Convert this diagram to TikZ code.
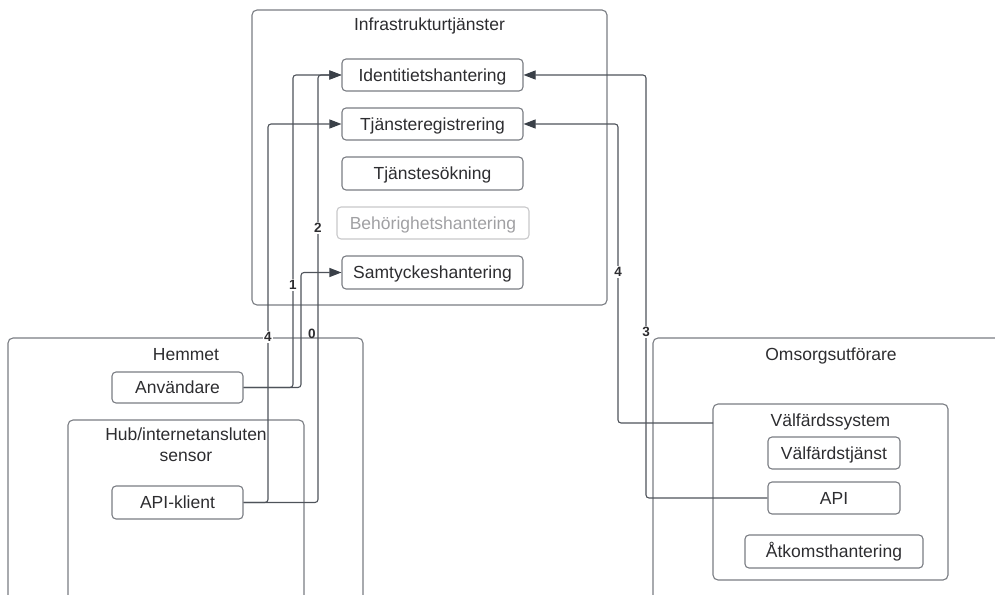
\documentclass[tikz,border=0pt]{standalone}
\usepackage{fontspec}
\setmainfont{Liberation Sans}
\usetikzlibrary{arrows.meta}

\definecolor{boxgray}{RGB}{122,125,131}
\definecolor{faintgray}{RGB}{200,200,202}
\definecolor{faintText}{RGB}{160,160,163}
\definecolor{wire}{RGB}{78,83,90}
\definecolor{tipcol}{RGB}{58,64,72}
\definecolor{txt}{RGB}{45,45,48}

\tikzset{
  box/.style={draw=boxgray, line width=1.1bp, rounded corners=4bp, inner sep=0pt,
    text=txt, font=\fontsize{17.5bp}{21bp}\selectfont, text height=12.6bp, text depth=0pt},
  container/.style={draw=boxgray, line width=1.1bp, rounded corners=5bp, inner sep=0pt},
  faint/.style={box, draw=faintgray, text=faintText},
  heading/.style={inner sep=0pt, text=txt, font=\fontsize{17.5bp}{21bp}\selectfont},
  conn/.style={draw=wire, line width=1.1bp, rounded corners=3bp,
    -{Triangle[length=12bp,width=9bp,color=tipcol]}},
  link/.style={draw=wire, line width=1.1bp, rounded corners=3bp},
  num/.style={fill=white, inner sep=1pt, text=txt, font=\bfseries\fontsize{13.5bp}{14bp}\selectfont}
}

\begin{document}
\begin{tikzpicture}[x=1bp, y=-1bp]
\useasboundingbox (0,0) rectangle (995,595);
\clip (0,0) rectangle (995,595);

% Infrastructure services
\node[container, minimum width=355bp, minimum height=295bp] (infra) at (429.5,157.5) {};
\node[heading, anchor=base] (infraT) at (429.5,31) {Infrastrukturtjänster};
\node[box, minimum width=181bp, minimum height=32bp] (ident) at (432.5,75) {Identitietshantering};
\node[box, minimum width=181bp, minimum height=32bp] (treg) at (432.5,124) {Tjänsteregistrering};
\node[box, minimum width=181bp, minimum height=33bp] (tsok) at (432.5,173.5) {Tjänstesökning};
\node[faint, minimum width=192bp, minimum height=32bp] (behor) at (433,223) {Behörighetshantering};
\node[box, minimum width=181bp, minimum height=33bp] (samt) at (432.5,272.5) {Samtyckeshantering};

% Home
\node[container, minimum width=355bp, minimum height=282bp] (hem) at (185.5,479) {};
\node[heading, anchor=base] (hemT) at (186,360) {Hemmet};
\node[box, minimum width=131bp, minimum height=31bp] (anv) at (177.5,387.5) {Användare};
\node[container, minimum width=236bp, minimum height=200bp] (hub) at (186,520) {};
\node[heading, anchor=north, align=center] (hubT) at (186,427.5) {Hub/internetansluten\\sensor};
\node[box, minimum width=131bp, minimum height=33bp] (apik) at (177.5,502.5) {API-klient};

% Care provider
\node[container, minimum width=367bp, minimum height=282bp] (oms) at (836.5,479) {};
\node[heading, anchor=base] (omsT) at (831,360) {Omsorgsutförare};
\node[container, minimum width=235bp, minimum height=176bp] (vsys) at (830.5,492) {};
\node[heading, anchor=base] (vsysT) at (830.5,426) {Välfärdssystem};
\node[box, minimum width=132bp, minimum height=32bp] (vtj) at (834,453) {Välfärdstjänst};
\node[box, minimum width=132bp, minimum height=32bp] (api) at (834,498) {API};
\node[box, minimum width=178bp, minimum height=33bp] (atk) at (834,551.5) {Åtkomsthantering};

% vertical routing tracks
\coordinate (trA) at (268,0);
\coordinate (trB) at (293,0);
\coordinate (trC) at (301,0);
\coordinate (trD) at (318,0);
\coordinate (trE) at (618,0);
\coordinate (trF) at (646,0);
\coordinate (vsysport) at (713,423);

% connectors
\draw[conn] (anv.east) -- (anv.east -| trB) |- (ident.west);
\draw[conn] (anv.east) -- (anv.east -| trC) |- (samt.west);
\draw[conn] (apik.east) -- (apik.east -| trA) |- (treg.west);
\draw[conn] (apik.east) -- (apik.east -| trD) |- (ident.west);
\draw[conn] (vsysport) -- (vsysport -| trE) |- (treg.east);
\draw[conn] (api.west) -- (api.west -| trF) |- (ident.east);

% step numbers
\node[num] (n1) at (293,285) {1};
\node[num] (n2) at (318,228) {2};
\node[num] (n4a) at (268,337) {4};
\node[num, fill=none] (n0) at (312,334) {0};
\node[num] (n4b) at (618,272) {4};
\node[num] (n3) at (646,332) {3};
\end{tikzpicture}
\end{document}
